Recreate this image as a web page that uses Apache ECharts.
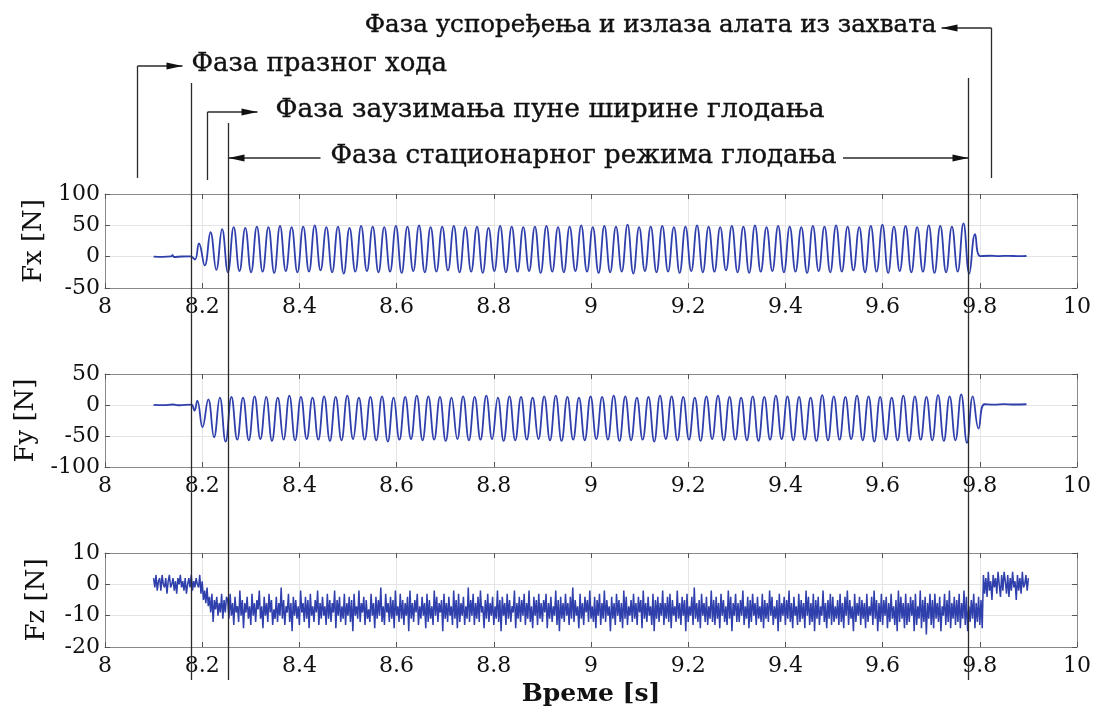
<!DOCTYPE html>
<html><head><meta charset="utf-8">
<script src="https://cdn.jsdelivr.net/npm/echarts@6/dist/echarts.min.js"></script>
<style>html,body{margin:0;padding:0;background:#fff}#c{width:1096px;height:713px}</style>
</head><body><div id="c"></div>
<script>
// ---------- axes ----------
const xMin = 8, xMax = 10, xStep = 0.2;
const xTickLabels = ['8','8.2','8.4','8.6','8.8','9','9.2','9.4','9.6','9.8','10'];
const yNames = ['Fx [N]', 'Fy [N]', 'Fz [N]'];
const yMins = [-50, -100, -20];
const yMaxs = [100, 50, 10];
const ySteps = [50, 50, 10];
const xName = 'Време [s]';

// ---------- phase annotations ----------
const phaseLabels = [
  'Фаза празног хода',
  'Фаза заузимања пуне ширине глодања',
  'Фаза стационарног режима глодања',
  'Фаза успоређења и излаза алата из захвата'
];
// time positions of the marker lines (s)
const phaseTimes = [8.0658, 8.1762, 8.2091, 8.2523, 9.7767, 9.8240];

// ---------- signals ----------
const cyclePeriod = 0.023835; // tooth period read from the oscillation

// Fx
const fxLead = [[8.100,0.2],[8.118,-0.4],[8.136,0.3],[8.139,2.6],[8.142,-0.5],[8.158,0.3],[8.176,0.4],[8.185,-4.5]];
const fxFirstPeak = 8.1933;
const fxPeaks = [
  21,39,44,47,46,48,47,49,47,48,50,47,48,46,49,48,47,49,48,50,
  47,48,49,47,48,46,49,48,47,48,49,47,48,50,47,49,48,51,47,48,
  49,47,48,50,48,47,49,48,50,47,49,48,47,49,48,50,48,47,49,51,
  48,49,47,50,49,48,53,36
];
const fxTroughs = [
  -14,-21,-25,-23,-25,-24,-26,-23,-25,-24,-22,-25,-27,-24,-23,-25,-24,-26,-23,-25,
  -24,-22,-25,-24,-26,-23,-25,-24,-23,-26,-24,-25,-23,-24,-26,-25,-24,-27,-23,-25,
  -24,-26,-23,-25,-24,-22,-25,-26,-24,-23,-25,-24,-26,-23,-25,-24,-22,-25,-24,-26,
  -23,-25,-24,-26,-25,-24,-27
];
const fxTail = [[9.8007,0.8],[9.820,1.5],[9.840,0.9],[9.860,1.4],[9.880,0.8],[9.896,1.1]];

// Fy
const fyLead = [[8.100,0.3],[8.120,-0.3],[8.140,0.8],[8.150,-0.4],[8.165,0.3],[8.178,0.5],[8.184,-9],[8.190,7],[8.2006,-36]];
const fyFirstPeak = 8.2125;
const fyPeaks = [
  9,12,13,12,14,13,12,15,13,12,14,13,15,12,13,14,12,13,15,14,
  13,12,14,13,15,12,14,13,12,14,15,13,12,14,13,15,14,12,13,15,
  14,13,12,14,15,13,12,14,13,15,14,13,12,16,14,13,15,14,13,12,
  15,14,13,16,14,17,14
];
const fyTroughs = [
  -52,-59,-56,-57,-55,-58,-56,-57,-55,-56,-58,-57,-55,-56,-57,-59,-56,-55,-57,-56,
  -58,-55,-57,-56,-55,-58,-57,-56,-55,-57,-58,-56,-57,-55,-56,-58,-57,-56,-59,-55,
  -57,-56,-58,-55,-57,-56,-57,-58,-56,-55,-57,-56,-58,-57,-56,-55,-57,-59,-56,-57,
  -58,-56,-57,-58,-57,-61,-38
];
const fyTail = [[9.8096,1.2],[9.830,0.5],[9.850,1.5],[9.870,0.8],[9.896,1.2]];

// Fz (sampled every 2.5 ms), four segments with their start times
const fzStep = 0.0025;
const fzIdleStart = 8.100;
const fzIdle = [
  2,-1,3,-2,1,2,-2,3,0,-1,2,-3,1,3,-1,0,2,-2,1,-3,2,0,3,-1,1,-2,2,-3,0,2,-1,3,-2,1,-1,2,0
];
const fzEntryStart = 8.1925;
const fzEntry = [
  -1,3,-3,1,-5,-2,-6,-1,-7,-4,-9,-3,-12,-5,-8,-4,-10,-6,-9,-3,-11,-5,-9,-4
];
const fzSteadyStart = 8.2525;
const fzSteady = [
  -5,-11,-3,-10,-6,-13,-4,-9,-7,-12,-2,-10,-5,-14,-6,-9,-4,-11,-7,-13,
  -3,-10,-6,-12,-5,-8,-2,-11,-7,-14,-4,-10,-6,-12,-3,-9,-5,-13,-8,-11,
  -4,-12,-6,-10,-1,-11,-5,-13,-7,-9,-3,-12,-6,-15,-4,-10,-5,-11,-7,-13,
  -2,-9,-6,-12,-4,-11,-5,-14,-3,-10,-7,-12,-5,-9,-2,-13,-6,-11,-4,-10,
  -7,-13,-3,-11,-5,-12,-6,-9,-2,-14,-5,-10,-4,-12,-7,-11,-3,-13,-6,-10,
  -4,-12,-5,-15,-3,-10,-7,-11,-2,-12,-6,-9,-4,-13,-5,-11,-8,-12,-3,-10,
  -6,-14,-4,-11,-5,-10,-1,-12,-7,-13,-3,-9,-6,-12,-4,-11,-5,-14,-2,-10,
  -7,-12,-3,-11,-5,-13,-6,-10,-4,-15,-2,-11,-6,-12,-5,-9,-3,-13,-7,-11,
  -4,-10,-6,-14,-3,-12,-5,-11,-7,-13,-2,-10,-4,-12,-6,-9,-5,-15,-3,-11,
  -6,-12,-4,-10,-7,-13,-2,-11,-5,-14,-3,-12,-6,-10,-4,-13,-7,-11,-1,-12,
  -5,-10,-3,-13,-6,-11,-4,-12,-2,-9,-7,-14,-5,-11,-3,-12,-6,-10,-4,-13,
  -7,-11,-2,-12,-5,-15,-4,-10,-6,-13,-3,-11,-5,-12,-7,-9,-2,-14,-6,-11,
  -4,-12,-5,-10,-3,-13,-6,-11,-2,-12,-7,-14,-4,-10,-5,-13,-3,-11,-6,-12,
  -5,-9,-3,-14,-6,-11,-4,-12,-7,-10,-2,-13,-5,-15,-4,-11,-6,-12,-3,-10,
  -6,-13,-4,-11,-1,-12,-5,-10,-7,-14,-3,-11,-6,-13,-4,-9,-5,-12,-2,-11,
  -7,-12,-4,-14,-5,-10,-3,-13,-6,-11,-2,-12,-5,-10,-7,-15,-4,-11,-6,-13,
  -3,-10,-5,-12,-6,-14,-2,-11,-4,-13,-7,-10,-5,-12,-3,-11,-6,-13,-4,-9,
  -5,-14,-2,-11,-6,-12,-4,-10,-7,-13,-3,-15,-5,-11,-4,-12,-6,-10,-2,-13,
  -6,-11,-4,-12,-3,-14,-5,-10,-7,-12,-2,-11,-6,-13,-4,-10,-5,-15,-3,-12,
  -7,-10,-4,-13,-1,-11,-6,-12,-5,-14,-3,-10,-6,-12,-4,-13,-7,-11,-2,-12,
  -5,-13,-4,-11,-6,-14,-3,-10,-5,-12,-7,-13,-2,-11,-4,-15,-6,-10,-3,-12,
  -6,-12,-5,-10,-2,-13,-7,-11,-4,-14,-5,-12,-3,-10,-6,-13,-4,-11,-7,-12,
  -3,-14,-5,-11,-6,-12,-2,-10,-4,-13,-7,-11,-5,-15,-3,-12,-6,-10,-4,-13,
  -5,-11,-2,-12,-6,-14,-4,-10,-7,-13,-3,-12,-5,-11,-6,-14,-2,-10,-4,-13,
  -6,-12,-3,-15,-5,-11,-4,-13,-7,-10,-2,-12,-6,-14,-5,-11,-3,-13,-4,-12,
  -7,-11,-5,-13,-3,-12,-6,-14,-4,-10,-2,-13,-5,-11,-7,-15,-3,-12,-6,-10,
  -4,-13,-5,-11,-6,-14,-3,-12,-7,-10,-4,-13,-2,-11,-5,-15,-6,-12,-3,-13,
  -5,-10,-4,-14,-6,-12,-3,-11,-7,-13,-5,-15,-2,-12,-4,-11,-6,-14,-3,-13,
  -6,-12,-4,-10,-5,-15,-3,-13,-7,-11,-2,-14,-5,-12,-4,-16,-6,-11,-3,-13,
  -5,-14,-3,-11,-6,-12,-4,-15,-7,-10,-3,-13,-5,-12,-2,-14,-6,-11,-4,-13,
  -5,-12,-3,-14,-6,-11,-2,-13,-4,-15,-7,-12,-5,-11,-3,-14,-6,-12,-4,-13,
  -5,-14
];
const fzExitStart = 9.8075;
const fzExit = [
  3,-3,2,-4,4,-2,1,-5,3,-1,2,-3,4,0,-4,3,-2,4,1,-3,3,-4,2,-2,4,-1,1,-5,3,-2,2,-3,4,-1,0,3,-2,2
];

// ---------- build ----------
function buildOsc(lead, first, peaks, troughs, tail) {
  const pts = lead.map(p => p.slice());
  for (let k = 0; k < peaks.length; k++) {
    pts.push([first + k * cyclePeriod, peaks[k]]);
    if (k < troughs.length) pts.push([first + (k + 0.5) * cyclePeriod, troughs[k]]);
  }
  return pts.concat(tail);
}
const seg = (start, vals) => vals.map((v, i) => [start + i * fzStep, v]);
const fxData = buildOsc(fxLead, fxFirstPeak, fxPeaks, fxTroughs, fxTail);
const fyData = buildOsc(fyLead, fyFirstPeak, fyPeaks, fyTroughs, fyTail);
const fzData = [].concat(
  seg(fzIdleStart, fzIdle), seg(fzEntryStart, fzEntry),
  seg(fzSteadyStart, fzSteady), seg(fzExitStart, fzExit)
);

const FONT = 'DejaVu Serif';
const LINE = '#2f3fac';
const grids = [
  {left: 105, right: 19, top: 194, height: 94},
  {left: 105, right: 19, top: 374, height: 93},
  {left: 105, right: 19, top: 553, height: 94}
];

const xAxes = [], yAxes = [];
for (let g = 0; g < 3; g++) {
  const common = {
    type: 'value', gridIndex: g, min: xMin, max: xMax, interval: xStep,
    axisLine: {show: true, onZero: false, lineStyle: {color: '#8a8a8a', width: 1}},
    axisTick: {show: true, inside: true, length: 5, lineStyle: {color: '#555'}}
  };
  xAxes.push(Object.assign({}, common, {
    position: 'bottom',
    axisLabel: {show: true, margin: 8, fontFamily: FONT, fontSize: 22, color: '#111',
      formatter: v => xTickLabels[Math.round((v - xMin) / xStep)]},
    splitLine: {show: true, lineStyle: {color: '#e4e4e4', width: 1}},
    name: g === 2 ? xName : '', nameLocation: 'middle', nameGap: 35,
    nameTextStyle: {fontFamily: FONT, fontSize: 25, fontWeight: 'bold', color: '#111'}
  }));
  xAxes.push(Object.assign({}, common, {
    position: 'top', axisLabel: {show: false}, splitLine: {show: false}
  }));
  const yc = {
    type: 'value', gridIndex: g, min: yMins[g], max: yMaxs[g], interval: ySteps[g],
    axisLine: {show: true, onZero: false, lineStyle: {color: '#8a8a8a', width: 1}},
    axisTick: {show: true, inside: true, length: 5, lineStyle: {color: '#555'}}
  };
  yAxes.push(Object.assign({}, yc, {
    position: 'left',
    axisLabel: {show: true, margin: 5, fontFamily: FONT, fontSize: 22, color: '#111'},
    splitLine: {show: true, lineStyle: {color: '#e4e4e4', width: 1}},
    name: yNames[g], nameLocation: 'middle', nameGap: 55, nameRotate: 90,
    nameTextStyle: {fontFamily: FONT, fontSize: 26, color: '#111'}
  }));
  yAxes.push(Object.assign({}, yc, {
    position: 'right', axisLabel: {show: false}, splitLine: {show: false}
  }));
}

const lineSeries = (data, g, smooth, w) => ({
  type: 'line', xAxisIndex: g * 2, yAxisIndex: g * 2, data: data,
  showSymbol: false, smooth: smooth, animation: false,
  lineStyle: {color: LINE, width: w}, z: 3
});

const chart = echarts.init(document.getElementById('c'), null, {renderer: 'canvas'});
chart.setOption({
  animation: false,
  backgroundColor: '#fff',
  grid: grids,
  xAxis: xAxes,
  yAxis: yAxes,
  series: [
    lineSeries(fxData, 0, 0.45, 1.8),
    lineSeries(fyData, 1, 0.45, 1.8),
    lineSeries(fzData, 2, false, 1.5)
  ]
});

// ---------- annotation graphics ----------
const px = t => chart.convertToPixel({xAxisIndex: 0}, t);
const AC = '#2a2a2a';
const labelSizes = [26, 26.5, 26, 24.6];
const gfx = [];
function vline(t, y1, y2) {
  const x = Math.round(px(t)) + 0.5;
  gfx.push({type: 'line', z: 100, shape: {x1: x, y1: y1, x2: x, y2: y2}, style: {stroke: AC, lineWidth: 1.3}});
  return x;
}
function hline(x1, x2, y) {
  gfx.push({type: 'line', z: 100, shape: {x1: x1, y1: y, x2: x2, y2: y}, style: {stroke: AC, lineWidth: 1.3}});
}
function head(x, y, dir) {
  const L = 16, H = 3.5;
  gfx.push({type: 'polygon', z: 101, shape: {points: [[x, y], [x - dir * L, y - H], [x - dir * L, y + H]]}, style: {fill: '#111'}});
}
function label(i, x, y, align) {
  gfx.push({type: 'text', z: 102, x: x, y: y, style: {text: phaseLabels[i], align: align, verticalAlign: 'middle',
    fontFamily: FONT, fontSize: labelSizes[i], fill: '#111', stroke: '#111', lineWidth: 0.4}});
}
// idle phase
const x0 = vline(phaseTimes[0], 66, 178);
hline(x0, x0 + 45, 66); head(x0 + 45, 66, 1);
label(0, x0 + 54, 64, 'left');
vline(phaseTimes[1], 83, 680);
// engagement phase
const x2 = vline(phaseTimes[2], 112, 180);
hline(x2, x2 + 50, 112); head(x2 + 50, 112, 1);
label(1, x2 + 68, 110, 'left');
// steady-state phase
const x3 = vline(phaseTimes[3], 123, 680);
const x4 = vline(phaseTimes[4], 78, 680);
hline(x3, x3 + 92, 158); head(x3, 158, -1);
label(2, x3 + 102, 156, 'left');
hline(843, x4, 158); head(x4, 158, 1);
// exit phase
const x5 = vline(phaseTimes[5], 28, 178);
hline(x5 - 50, x5, 28); head(x5 - 50, 28, -1);
label(3, x5 - 55, 26, 'right');
chart.setOption({graphic: gfx});
</script>
</body></html>
